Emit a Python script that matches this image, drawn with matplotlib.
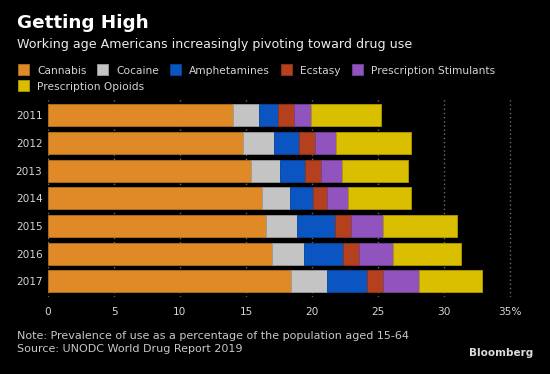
import numpy as np
import matplotlib.pyplot as plt
import matplotlib.colors as mcolors
from matplotlib.patches import Rectangle

Anios = ["2011", "2012", "2013", "2014", "2015", "2016", "2017"]
Drogas = ["Cannabis", "Cocaine", "Amphetamines", "Ecstasy",
          "Prescription Stimulants", "Prescription Opioids"]
Cannabis = [14.0, 14.8, 15.4, 16.2, 16.5, 17.0, 18.4]
Cocaine = [1.95, 2.3, 2.15, 2.15, 2.35, 2.4, 2.7]
Amphetamines = [1.45, 1.9, 1.9, 1.7, 2.9, 2.95, 3.1]
Ecstasy = [1.25, 1.2, 1.2, 1.05, 1.2, 1.2, 1.2]
Stimulants = [1.3, 1.6, 1.6, 1.65, 2.45, 2.6, 2.7]
Opioids = [5.25, 5.7, 5.0, 4.75, 5.55, 5.1, 4.8]
Ticks_x = [0, 5, 10, 15, 20, 25, 30, 35]

Colores = ["#DF8A26", "#C4C4C4", "#0A55C2", "#B5401E", "#9153BD", "#D9BF00"]
FONDO = "black"
W, H = 550, 374


def oscuro(c, f=0.8):
    r, g, b = mcolors.to_rgb(c)
    return (r * f, g * f, b * f)


def main():
    fig = plt.figure(figsize=(W / 100, H / 100), dpi=100, facecolor=FONDO)
    ax = fig.add_axes([48 / W, 1 - 297 / H, 470 / W, 200 / H], facecolor=FONDO)

    series = [Cannabis, Cocaine, Amphetamines, Ecstasy, Stimulants, Opioids]
    y = np.arange(len(Anios))
    izq = np.zeros(len(Anios))
    for valores, color, nombre in zip(series, Colores, Drogas):
        ax.barh(y, valores, left=izq, height=0.8, color=color,
                edgecolor=oscuro(color), linewidth=0.6, label=nombre, zorder=3)
        izq += np.array(valores)

    ax.set_ylim(6.57, -0.66)
    ax.set_xlim(0, 35.6)
    ax.set_yticks(y)
    ax.set_yticklabels(Anios)
    ax.set_xticks(Ticks_x)
    ax.set_xticklabels([str(t) if t != 35 else "35%" for t in Ticks_x])
    ax.tick_params(length=0, colors="#d4d4d4", labelsize=7.6)
    ax.tick_params(axis="y", pad=4)
    ax.tick_params(axis="x", pad=7)
    for s in ax.spines.values():
        s.set_visible(False)
    ax.set_axisbelow(True)
    ax.xaxis.grid(True, color="#6a6a6a", linestyle=(0, (1, 2)), linewidth=1)

    # titulos
    fig.text(17 / W, 1 - 28 / H, "Getting High", fontsize=13.2, fontweight="bold",
             color="white", va="baseline")
    fig.text(17 / W, 1 - 48 / H, "Working age Americans increasingly pivoting toward drug use",
             fontsize=9.1, color="#ececec", va="baseline")

    # leyenda manual, en dos filas
    renderer = fig.canvas.get_renderer()
    x = 18
    fila_base = [74.5, 90]
    fila = 0
    for nombre, color in zip(Drogas, Colores):
        t = fig.text(0, 0, nombre, fontsize=7.7, color="#d4d4d4", va="baseline")
        ancho = t.get_window_extent(renderer).width
        if x + 19 + ancho > 520:
            fila += 1
            x = 18
        base = fila_base[fila]
        fig.patches.append(Rectangle((x / W, 1 - (base + 0.5) / H), 11 / W, 11 / H,
                                     transform=fig.transFigure, facecolor=color,
                                     edgecolor=oscuro(color), linewidth=0.6))
        t.set_position(((x + 19) / W, 1 - base / H))
        x += 19 + ancho + 11

    fig.text(17 / W, 1 - 339 / H,
             "Note: Prevalence of use as a percentage of the population aged 15-64",
             fontsize=8, color="#c8c8c8", va="baseline")
    fig.text(17 / W, 1 - 352.5 / H, "Source: UNODC World Drug Report 2019",
             fontsize=8, color="#c8c8c8", va="baseline")
    fig.text(533 / W, 1 - 356.5 / H, "Bloomberg", fontsize=7.5, fontweight="bold",
             color="#dcdcdc", va="baseline", ha="right")

    fig.savefig("out.png", dpi=100, facecolor=FONDO)


main()
